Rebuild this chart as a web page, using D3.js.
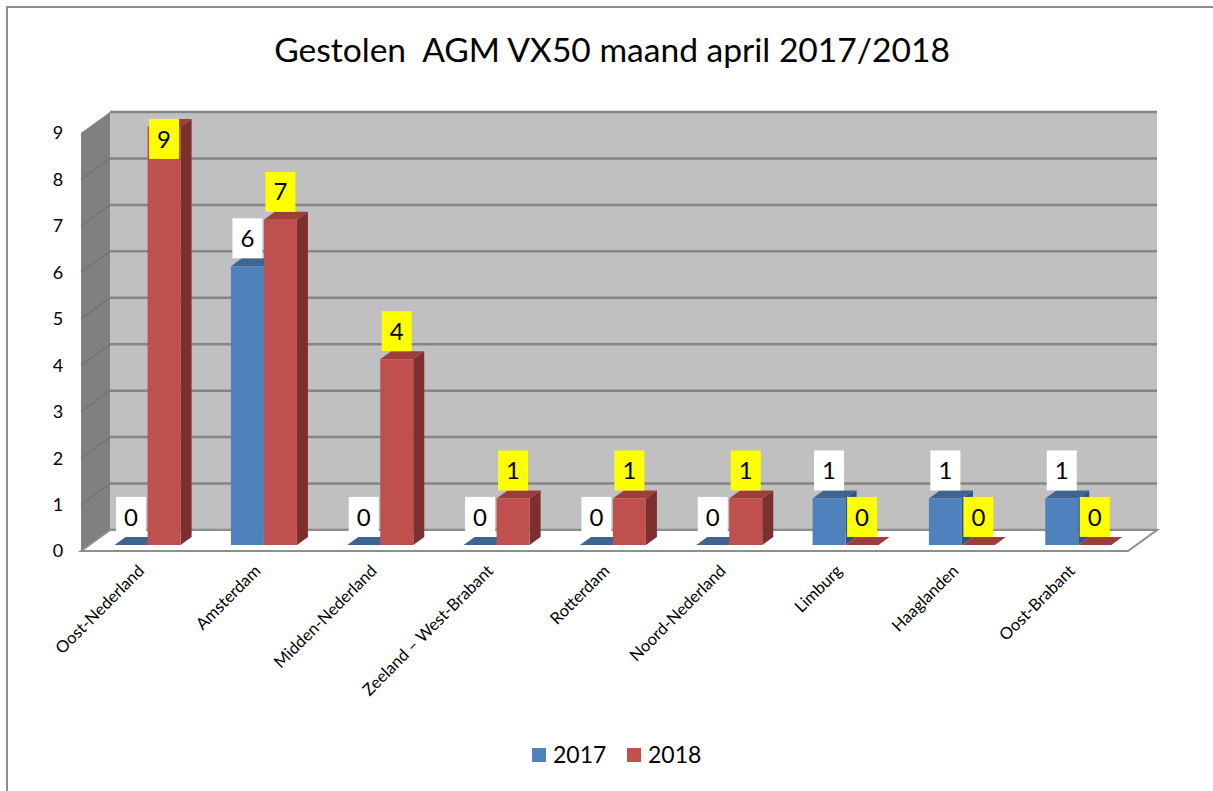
<!DOCTYPE html>
<html>
<head>
<meta charset="utf-8">
<script src="https://cdn.jsdelivr.net/npm/d3@7"></script>
<style>
  body { margin: 0; background: #fff; }
  text { font-family: Lato, "Liberation Sans", sans-serif; fill: #000; }
</style>
</head>
<body>
<script>
const categories = ["Oost-Nederland", "Amsterdam", "Midden-Nederland", "Zeeland \u2013 West-Brabant",
    "Rotterdam", "Noord-Nederland", "Limburg", "Haaglanden", "Oost-Brabant"];
const values2017 = [0, 6, 0, 0, 0, 0, 1, 1, 1];
const values2018 = [9, 7, 4, 1, 1, 1, 0, 0, 0];
const seriesNames = ["2017", "2018"];
const yTicks = [0, 1, 2, 3, 4, 5, 6, 7, 8, 9];

const width = 1213, height = 791;
const depthX = 29, depthY = -21;       // offset front plane -> back wall
const barDepth = 0.29, barThick = 0.38; // bar position / thickness in depth
const barW = 33;

const colors = {
    "2017": {front: "#4F81BD", top: "#3D6591", side: "#2F5283", label: "#FFFFFF"},
    "2018": {front: "#C0504D", top: "#9E3E3B", side: "#7B302E", label: "#FFFF00"}
};

const svg = d3.select("body").append("svg")
    .attr("width", width)
    .attr("height", height);

// chart border
svg.append("rect")
    .attr("x", 7).attr("y", 7)
    .attr("width", 1220).attr("height", 800)
    .attr("fill", "none")
    .attr("stroke", "#8c8c8c")
    .attr("stroke-width", 2);

svg.append("text")
    .attr("x", 612)
    .attr("y", 62)
    .attr("text-anchor", "middle")
    .attr("font-size", 33.6)
    .style("white-space", "pre")
    .text("Gestolen  AGM VX50 maand april 2017/2018");

// front plane scales
const xscale = d3.scaleBand()
    .domain(categories)
    .range([81, 1128]);

const yscale = d3.scaleLinear()
    .domain([0, 9])
    .range([551, 133]);

const P = (x, y, d) => [x + depthX * d, y + depthY * d];
const poly = pts => "M" + pts.map(p => p.join(",")).join("L") + "Z";

const x0 = xscale.range()[0], x1 = xscale.range()[1];
const yb = yscale(0), yt = yscale(9);

// back wall
svg.append("path")
    .attr("d", poly([P(x0, yt, 1), P(x1, yt, 1), P(x1, yb, 1), P(x0, yb, 1)]))
    .attr("fill", "#C0C0C0");

// left wall
svg.append("path")
    .attr("d", poly([[x0, yt], P(x0, yt, 1), P(x0, yb, 1), [x0, yb]]))
    .attr("fill", "#808080");

// gridlines on back wall and side wall
yTicks.forEach(v => {
    const a = P(x0, yscale(v), 1), b = P(x1, yscale(v), 1);
    svg.append("line")
        .attr("x1", a[0]).attr("y1", a[1]).attr("x2", b[0]).attr("y2", b[1])
        .attr("stroke", "#858585").attr("stroke-width", 2.5);
    if (v > 0 && v < 9) {
        svg.append("line")
            .attr("x1", x0).attr("y1", yscale(v)).attr("x2", a[0]).attr("y2", a[1])
            .attr("stroke", "#747474").attr("stroke-width", 1.5);
    }
});

// floor
svg.append("path")
    .attr("d", poly([[x0, yb], [x1, yb], P(x1, yb, 1), P(x0, yb, 1)]))
    .attr("fill", "#FFFFFF")
    .attr("stroke", "#8e8e8e")
    .attr("stroke-width", 2);

// y axis labels
svg.append("g").selectAll("text")
    .data(yTicks)
    .join("text")
    .attr("x", 58)
    .attr("y", d => yscale(d))
    .attr("dy", "0.36em")
    .attr("text-anchor", "middle")
    .attr("font-size", 18)
    .text(d => d);

// bars
const bars = [];
categories.forEach((c, i) => {
    const cx = xscale(c) + xscale.bandwidth() / 2;
    [values2017[i], values2018[i]].forEach((v, s) => {
        const xl = cx - barW + s * barW;
        bars.push({cat: c, series: seriesNames[s], value: v, xl: xl});
    });
});

const gBars = svg.append("g");
bars.forEach(b => {
    const col = colors[b.series];
    const xr = b.xl + barW;
    const yTop = yscale(b.value), yBot = yscale(0);
    const fl = P(b.xl, yTop, barDepth), fr = P(xr, yTop, barDepth);
    const bl = P(b.xl, yTop, barDepth + barThick), br = P(xr, yTop, barDepth + barThick);
    const flb = P(b.xl, yBot, barDepth), frb = P(xr, yBot, barDepth);
    const brb = P(xr, yBot, barDepth + barThick);
    if (b.value > 0) {
        gBars.append("path").attr("d", poly([fr, br, brb, frb])).attr("fill", col.side);
        gBars.append("path").attr("d", poly([fl, fr, br, bl])).attr("fill", col.top);
        gBars.append("path").attr("d", poly([fl, fr, frb, flb])).attr("fill", col.front);
    } else {
        gBars.append("path").attr("d", poly([fl, fr, br, bl])).attr("fill", col.top);
    }
});

// data labels
const gLab = svg.append("g");
bars.forEach(b => {
    const col = colors[b.series];
    const f = P(b.xl + barW / 2, yscale(b.value), barDepth);
    const backTop = f[1] + depthY * barThick;
    let top = backTop - 40;
    if (top < 115) top = backTop;
    gLab.append("rect")
        .attr("x", f[0] - 15).attr("y", top)
        .attr("width", 30).attr("height", 40)
        .attr("fill", col.label);
    gLab.append("text")
        .attr("x", f[0]).attr("y", top + 20)
        .attr("dy", "0.36em")
        .attr("text-anchor", "middle")
        .attr("font-size", 24)
        .text(b.value);
});

// category labels
svg.append("g").selectAll("text")
    .data(categories)
    .join("text")
    .attr("transform", d => {
        const cx = xscale(d) + xscale.bandwidth() / 2 + 6;
        return "translate(" + [cx, 572].join(",") + ") rotate(-45)";
    })
    .attr("text-anchor", "end")
    .attr("font-size", 16.5)
    .text(d => d);

// legend
const legend = svg.append("g");
seriesNames.forEach((s, i) => {
    const lx = 532 + i * 95;
    legend.append("rect")
        .attr("x", lx).attr("y", 748)
        .attr("width", 14).attr("height", 14)
        .attr("fill", colors[s].front);
    legend.append("text")
        .attr("x", lx + 21).attr("y", 763)
        .attr("font-size", 23)
        .text(s);
});
</script>
</body>
</html>
